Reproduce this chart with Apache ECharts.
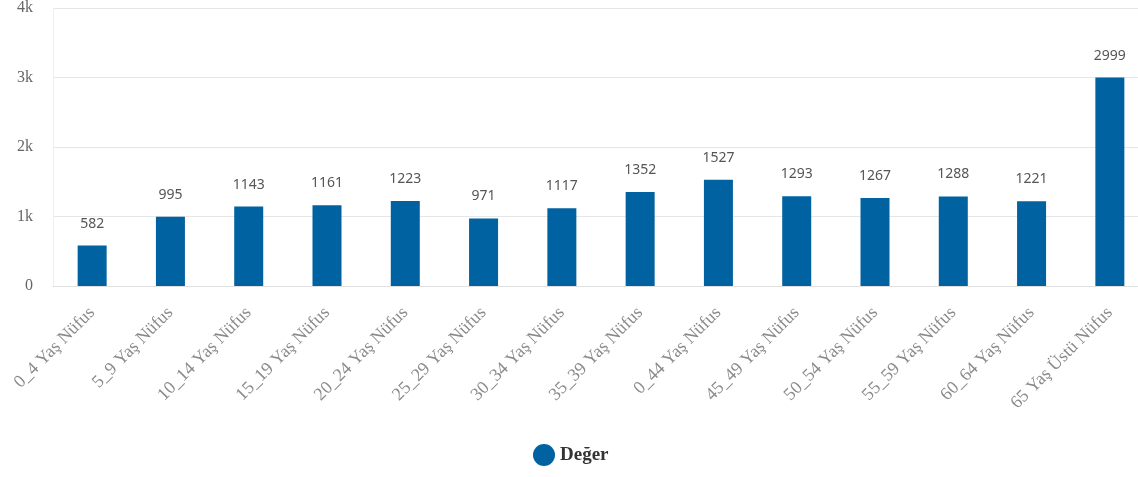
<!DOCTYPE html>
<html><head><meta charset="utf-8">
<script src="https://cdn.jsdelivr.net/npm/echarts@6/dist/echarts.min.js"></script>
<style>html,body{margin:0;padding:0;background:#fff;overflow:hidden}#c{width:1150px;height:477px}</style>
</head><body><div id="c"></div>
<script>
const categories = ["0_4 Yaş Nüfus","5_9 Yaş Nüfus","10_14 Yaş Nüfus","15_19 Yaş Nüfus","20_24 Yaş Nüfus","25_29 Yaş Nüfus","30_34 Yaş Nüfus","35_39 Yaş Nüfus","0_44 Yaş Nüfus","45_49 Yaş Nüfus","50_54 Yaş Nüfus","55_59 Yaş Nüfus","60_64 Yaş Nüfus","65 Yaş Üstü Nüfus"];
const values = [582,995,1143,1161,1223,971,1117,1352,1527,1293,1267,1288,1221,2999];
const seriesName = "Değer";
const chart = echarts.init(document.getElementById('c'));
chart.setOption({
  animation:false,
  legend:{bottom:6,left:528,itemWidth:22,itemHeight:22,icon:'circle',itemGap:10,
    textStyle:{fontFamily:'Liberation Serif',fontWeight:'bold',fontSize:19,color:'#333'},data:[seriesName]},
  grid:{left:53,right:1,top:5,bottom:191},
  xAxis:{type:'category',data:categories,
    axisLine:{lineStyle:{color:'#e0e0e0'}},axisTick:{show:false},
    axisLabel:{rotate:45,interval:0,fontFamily:'Liberation Serif',fontSize:18,color:'#8a8a8a',margin:24}},
  yAxis:{type:'value',min:0,max:4000,interval:1000,
    axisLine:{show:true,lineStyle:{color:'#eee'}},
    splitLine:{lineStyle:{color:'#e6e6e6'}},
    axisLabel:{fontFamily:'Liberation Serif',fontSize:16,color:'#666',margin:20,
      formatter:v=>v===0?'0':(v/1000)+'k'}},
  series:[{name:seriesName,type:'bar',data:values,barWidth:29,
    itemStyle:{color:'#0062a0'},
    label:{show:true,position:'top',distance:15,fontFamily:'Noto Sans',fontSize:14,color:'#555'}}]
});
</script></body></html>
